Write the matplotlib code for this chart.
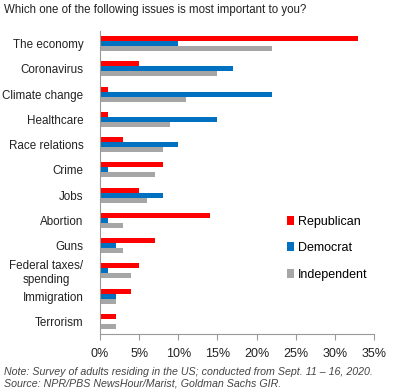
import numpy as np
import matplotlib
matplotlib.use("Agg")
import matplotlib.pyplot as plt

plt.rcParams['font.family'] = ['Liberation Sans', 'DejaVu Sans']

issues = ['The economy', 'Coronavirus', 'Climate change', 'Healthcare',
          'Race relations', 'Crime', 'Jobs', 'Abortion', 'Guns',
          'Federal taxes/\nspending', 'Immigration', 'Terrorism']
republican = [33, 5, 1, 1, 3, 8, 5, 14, 7, 5, 4, 2]
democrat = [10, 17, 22, 15, 10, 1, 8, 1, 2, 1, 2, 0]
independent = [22, 15, 11, 9, 8, 7, 6, 3, 3, 4, 2, 2]
xticks = [0, 5, 10, 15, 20, 25, 30, 35]

fig = plt.figure(figsize=(4.0, 3.92), dpi=100)
ax = fig.add_axes([0.25, 0.148, 0.685, 0.773])

y = np.arange(len(issues))
h = 0.2
ax.barh(y - h, republican, height=h, color='#FF0000', label='Republican')
ax.barh(y, democrat, height=h, color='#0070C0', label='Democrat')
ax.barh(y + h, independent, height=h, color='#A6A6A6', label='Independent')

ax.set_ylim(len(issues) - 0.5, -0.5)
ax.set_xlim(0, 35)
ax.set_yticks(y)
ax.set_yticklabels(issues, fontsize=8.4, color='#222222', multialignment='center')
ax.tick_params(axis='y', length=0, pad=12)
ax.set_xticks(xticks)
ax.set_xticklabels([f'{t}%' for t in xticks], fontsize=9, color='#222222')
ax.tick_params(axis='x', length=4, color='#999999', pad=6)

for s in ['top', 'right']:
    ax.spines[s].set_visible(False)
for s in ['left', 'bottom']:
    ax.spines[s].set_color('#999999')

ax.legend(loc='center left', bbox_to_anchor=(0.64, 0.283), frameon=False,
          fontsize=9, handlelength=0.6, handleheight=0.7, handletextpad=0.3,
          labelspacing=1.15)

fig.text(0.01, 0.974, 'Which one of the following issues is most important to you?',
         fontsize=8.3, color='#222222', va='center')
fig.text(0.01, 0.051, 'Note: Survey of adults residing in the US; conducted from Sept. 11 \u2013 16, 2020.',
         fontsize=7.65, style='italic', color='#444444', va='center')
fig.text(0.01, 0.022, 'Source: NPR/PBS NewsHour/Marist, Goldman Sachs GIR.',
         fontsize=7.65, style='italic', color='#444444', va='center')

fig.savefig('out.png', dpi=100)
